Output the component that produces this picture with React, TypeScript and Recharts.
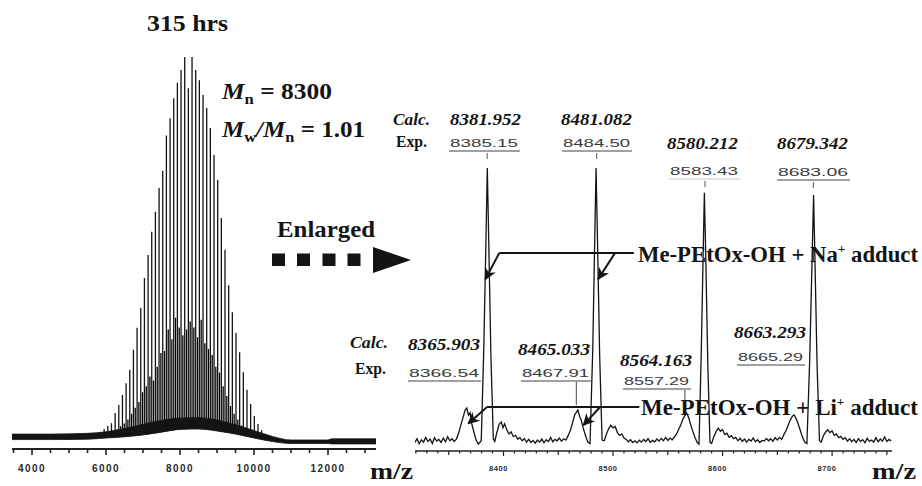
import React from 'react';
import { ComposedChart, Line, Area, XAxis, YAxis, ReferenceLine } from 'recharts';

const SERIF = "'Liberation Serif', 'Times New Roman', serif";
const SANS = "'Liberation Sans', Arial, sans-serif";
const INK = '#141414';

// ---- full spectrum, 315 hrs (relative intensity, 100 = tallest) ----
const fullPeakMz = [
  5850, 5949, 6048, 6147, 6246, 6345, 6444, 6543, 6642, 6741, 6840, 6939, 7038, 7137, 7236, 7335,
  7434, 7533, 7632, 7731, 7830, 7929, 8028, 8127, 8226, 8325, 8424, 8523, 8622, 8721, 8820, 8919,
  9018, 9117, 9216, 9315, 9414, 9513, 9612, 9711, 9810, 9909, 10008, 10107, 10206, 10305,
];
const fullPeakInt = [
  4.3, 5.1, 5.9, 6.6, 9.2, 11.2, 13.8, 16.8, 20.2, 25.3, 30.9, 36.0, 43.6, 49.5, 55.4, 60.5,
  66.6, 71.0, 80.0, 84.4, 89.5, 93.4, 96.7, 100, 92.0, 100, 96.7, 94.1, 90.3, 87.0, 81.9, 75.0,
  68.6, 58.9, 50.8, 41.8, 34.9, 29.6, 24.7, 19.6, 15.1, 11.5, 8.4, 6.4, 4.8, 3.8,
];
// weaker series sitting between the main peaks (dark core of the envelope)
const fullMinorMz = [
  6196, 6295, 6394, 6493, 6592, 6691, 6790, 6889, 6988, 7087, 7186, 7285, 7384, 7483, 7582, 7681,
  7780, 7879, 7978, 8077, 8176, 8275, 8374, 8473, 8572, 8671, 8770, 8869, 8968, 9067, 9166, 9265,
  9364, 9463, 9562, 9661, 9760, 9859,
];
const fullMinorInt = [
  4.5, 5.0, 5.8, 6.5, 7.5, 9.0, 10.5, 12.0, 14.5, 16.0, 18.5, 17.5, 21.0, 24.5, 25.0, 30.5,
  28.0, 33.5, 31.0, 29.0, 30.5, 32.5, 31.0, 28.5, 33.0, 27.0, 25.5, 24.0, 21.0, 19.5, 16.0, 13.5,
  11.0, 9.0, 7.5, 6.0, 5.0, 4.2,
];
// noisy baseline band (lower / upper edge)
const fullBaseMz = [3459, 4500, 5500, 6000, 6500, 7000, 7500, 8000, 8500, 9000, 9500, 10000, 10500, 11000, 12000, 12100, 13297];
const fullBaseLow = [2.4, 2.4, 2.5, 2.8, 3.1, 3.6, 4.3, 5.0, 5.1, 4.6, 3.8, 2.8, 1.9, 1.4, 1.4, 1.3, 1.3];
const fullBaseHigh = [3.8, 3.8, 4.0, 4.4, 5.2, 6.3, 7.3, 7.9, 8.0, 7.4, 6.2, 4.7, 3.2, 2.3, 2.3, 2.6, 2.6];
const fullTickLabels = [4000, 6000, 8000, 10000, 12000];

// ---- enlarged region, m/z 8320-8750: [m/z, intensity] ----
const zoomTrace: [number, number][] = [
  [8319, 2.4], [8321, 3.6], [8323, 2.1], [8325, 3.3], [8327, 2.6], [8329, 4.0], [8331, 2.8], [8333, 3.5],
  [8335, 2.2], [8337, 3.9], [8339, 2.9], [8341, 3.4], [8343, 2.5], [8345, 3.8], [8347, 2.7], [8349, 4.2],
  [8351, 3.0], [8353, 3.6], [8355, 2.8], [8357, 3.5],
  [8359, 5.2], [8361, 7.5], [8363, 9.8], [8365, 12.0], [8366.5, 12.6], [8368, 10.5], [8369.5, 11.2],
  [8371, 8.0], [8373, 5.5], [8375, 3.2], [8377, 2.0],
  [8379.7, 3.0], [8382, 30], [8384, 62], [8385.2, 83], [8386.5, 62], [8388.5, 28], [8390.7, 3.5],
  [8392, 2.8], [8394, 5.5], [8396, 7.8], [8398, 8.5], [8399.5, 6.8], [8401, 8.0], [8403, 6.2], [8405, 5.0],
  [8407, 5.6], [8409, 4.2], [8411, 4.6], [8413, 3.5],
  [8415, 3.9], [8417, 3.0], [8419, 3.6], [8421, 2.6], [8423, 3.4], [8425, 2.5], [8427, 3.1], [8429, 2.3],
  [8431, 3.2], [8433, 2.6], [8435, 3.5], [8437, 2.4], [8439, 3.3], [8441, 2.8], [8443, 4.0], [8445, 2.7],
  [8447, 3.4], [8449, 3.0], [8451, 3.8], [8453, 2.9], [8455, 3.6], [8457, 3.2],
  [8459, 4.5], [8461, 6.0], [8463, 8.2], [8465, 10.6], [8467.9, 12.0], [8469.5, 10.2], [8471, 9.0],
  [8473, 6.5], [8475, 4.4], [8477, 2.6],
  [8479, 2.2], [8481.5, 30], [8483.3, 62], [8484.5, 83], [8485.8, 62], [8487.8, 28], [8490, 3.2],
  [8492, 3.0], [8494, 5.0], [8496, 6.5], [8498, 7.6], [8500, 6.8], [8502, 7.2], [8504, 5.4], [8506, 4.6],
  [8508, 5.0], [8510, 3.8],
  [8512, 3.4], [8514, 2.7], [8516, 3.3], [8518, 2.5], [8520, 3.0], [8522, 2.4], [8524, 3.2], [8526, 2.6],
  [8528, 3.4], [8530, 2.8], [8532, 3.6], [8534, 2.5], [8536, 3.1], [8538, 2.7], [8540, 3.5], [8542, 2.9],
  [8544, 3.7], [8546, 3.0], [8548, 4.0], [8550, 3.1], [8552, 3.8], [8554, 3.3], [8556, 4.1],
  [8558, 5.0], [8560, 6.4], [8562, 7.8], [8564, 9.5], [8566, 10.6], [8567.3, 11.1], [8569, 9.8],
  [8571, 7.6], [8573, 5.6], [8575, 3.8], [8577, 2.4],
  [8578.5, 2.0], [8580.5, 28], [8582.3, 58], [8583.4, 75.7], [8584.6, 58], [8586.5, 26], [8588.5, 2.6],
  [8590, 2.2], [8592, 4.2], [8594, 5.6], [8596, 6.7], [8598, 5.8], [8600, 6.3], [8602, 4.8], [8604, 5.2],
  [8606, 4.0], [8608, 4.5], [8610, 3.6],
  [8612, 4.0], [8614, 3.0], [8616, 3.7], [8618, 2.8], [8620, 3.5], [8622, 2.6], [8624, 3.4], [8626, 2.9],
  [8628, 3.8], [8630, 2.7], [8632, 3.3], [8634, 2.5], [8636, 3.1], [8638, 2.9], [8640, 3.7], [8642, 3.0],
  [8644, 3.6], [8646, 2.8], [8648, 3.9], [8650, 3.2], [8652, 4.0], [8654, 3.4],
  [8656, 4.8], [8658, 6.0], [8660, 7.6], [8662, 9.2], [8664, 10.3], [8665.3, 10.6], [8667, 9.6],
  [8669, 8.0], [8671, 6.0], [8673, 4.0], [8675, 2.6],
  [8677, 2.2], [8679.5, 26], [8681.8, 57], [8683.1, 75.1], [8684.3, 57], [8686.3, 25], [8688.5, 3.0],
  [8690, 2.6], [8692, 4.4], [8694, 5.5], [8696, 6.2], [8698, 5.4], [8700, 5.9], [8702, 4.6], [8704, 5.0],
  [8706, 3.9], [8708, 4.3], [8710, 3.4],
  [8712, 3.9], [8714, 2.9], [8716, 3.6], [8718, 2.7], [8720, 3.4], [8722, 2.5], [8724, 3.6], [8726, 2.8],
  [8728, 3.3], [8730, 2.4], [8732, 3.7], [8734, 2.8], [8736, 3.2], [8738, 2.6], [8740, 3.9], [8742, 2.7],
  [8744, 3.5], [8746, 2.9], [8748, 4.1], [8750, 2.8], [8752, 3.4], [8754, 2.9],
];
const zoomTickLabels = [8400, 8500, 8600, 8700];

// peak annotations
const naCalc = ['8381.952', '8481.082', '8580.212', '8679.342'];
const naExp = ['8385.15', '8484.50', '8583.43', '8683.06'];
const liCalc = ['8365.903', '8465.033', '8564.163', '8663.293'];
const liExp = ['8366.54', '8467.91', '8557.29', '8665.29'];

// adduct arrows in data units: [fromMz, fromInt, toMz, toInt]
const naLine = [8519, 58.1, 8396.2, 58.1];
const naArrows = [[8396.2, 58.1, 8383.5, 50.4], [8501.9, 58.1, 8486.4, 50.4]];
const liLine = [8524, 12.9, 8385.0, 12.9];
const liArrows = [[8385.0, 12.9, 8367.9, 8.1], [8488.2, 12.9, 8473.0, 7.6]];

// label layout (px)
const naCalcPos = [[450, 125], [561, 125], [667, 149], [777, 149]];
const naExpPos = [[450, 147, 68], [563, 147, 67], [670, 175, 68], [778, 176, 70]];
const naLeaderX = [487.2, 596.7, 705, 813.3];
const liCalcPos = [[408, 350], [518, 355], [620, 366], [734, 338]];
const liExpPos = [[409, 377, 70], [522, 377, 67], [624, 385, 65], [738, 361, 65]];

const stick = (mz: number[], h: number[]) =>
  mz.flatMap((m, k) => [{ mz: m, v: 1 }, { mz: m, v: h[k] }, { mz: m, v: 1 }]);
const fullMain = stick(fullPeakMz, fullPeakInt);
const fullMinor = stick(fullMinorMz, fullMinorInt);
const fullBase = fullBaseMz.map((m, k) => ({ mz: m, low: fullBaseLow[k], band: [fullBaseLow[k], fullBaseHigh[k]] }));
const zoomData = zoomTrace.map(([mz, v]) => ({ mz, v }));

const fullTicks = Array.from({ length: 20 }, (_, k) => 3500 + k * 500);
const zoomTicks = Array.from({ length: 44 }, (_, k) => 8320 + k * 10);

const FULL_DOMAIN: [number, number] = [3459, 13297];
const FULL_MARGIN = { top: 57, right: 546, bottom: 7, left: 12 };

function FullTick(props: any) {
  const { x, y, payload } = props;
  const major = fullTickLabels.includes(payload.value);
  return (
    <g>
      <line x1={x} x2={x} y1={y} y2={y + (major ? 6 : 4)} stroke="#222" strokeWidth={1.6} />
      {major && (
        <text x={x} y={y + 23} textAnchor="middle" fontFamily={SANS} fontSize={10} fontWeight={700}
          letterSpacing={1.4} fill="#2a2a2a">{payload.value}</text>
      )}
    </g>
  );
}

function ZoomTick(props: any) {
  const { x, y, payload } = props;
  const v = payload.value;
  const len = v % 100 === 0 ? 5 : v % 50 === 0 ? 4 : 2.5;
  return (
    <g>
      <line x1={x} x2={x} y1={y} y2={y + len} stroke="#222" strokeWidth={1.2} />
      {v % 100 === 0 && (
        <text x={x - 5} y={y + 20} textAnchor="middle" fontFamily={SANS} fontSize={7.5} fontWeight={700}
          letterSpacing={0.6} fill="#2a2a2a">{v}</text>
      )}
    </g>
  );
}

const Arrow = (p: any) => (
  <line x1={p.x1} y1={p.y1} x2={p.x2} y2={p.y2} stroke={INK} strokeWidth={2} markerEnd="url(#adductHead)" />
);
const Plain = (p: any) => <line x1={p.x1} y1={p.y1} x2={p.x2} y2={p.y2} stroke={INK} strokeWidth={2} />;

function Txt({ x, y, w, size, italic, bold = true, family = SERIF, fill = INK, children }: any) {
  return (
    <text x={x} y={y} fontSize={size} fontFamily={family} fontWeight={bold ? 700 : 400}
      fontStyle={italic ? 'italic' : 'normal'} fill={fill} textLength={w} lengthAdjust="spacingAndGlyphs">
      {children}
    </text>
  );
}

const layer = { position: 'absolute' as const, left: 0, top: 0 };

export default function App() {
  return (
    <div style={{ position: 'absolute', left: 0, top: 0, width: 922, height: 486, background: '#fff', overflow: 'hidden' }}>
      {/* full spectrum: peak sticks */}
      <div style={layer}>
        <ComposedChart width={922} height={486} margin={FULL_MARGIN}>
          <XAxis type="number" dataKey="mz" domain={FULL_DOMAIN} ticks={fullTicks} interval={0}
            tickSize={0} tickMargin={0} tickLine={false} tick={(p: any) => <FullTick {...p} />}
            axisLine={{ stroke: '#222', strokeWidth: 2 }} height={30} allowDataOverflow />
          <YAxis hide type="number" domain={[0, 100]} allowDataOverflow />
          <Line data={fullMinor} dataKey="v" type="linear" stroke="#000" strokeWidth={1.3}
            dot={false} activeDot={false} isAnimationActive={false} />
          <Line data={fullMain} dataKey="v" type="linear" stroke={INK} strokeWidth={1.3}
            dot={false} activeDot={false} isAnimationActive={false} />
        </ComposedChart>
      </div>

      {/* full spectrum: baseline hump and noise band, laid over the sticks */}
      <div style={layer}>
        <ComposedChart width={922} height={486} margin={{ ...FULL_MARGIN, bottom: 37 }}>
          <XAxis hide type="number" dataKey="mz" domain={FULL_DOMAIN} allowDataOverflow />
          <YAxis hide type="number" domain={[0, 100]} allowDataOverflow />
          <Area data={fullBase} dataKey="low" type="monotone" baseValue={0.4} fill="#fff" fillOpacity={1}
            stroke="none" isAnimationActive={false} />
          <Area data={fullBase} dataKey="band" type="monotone" fill={INK} fillOpacity={1}
            stroke={INK} strokeWidth={0.8} isAnimationActive={false} />
        </ComposedChart>
      </div>

      {/* enlarged spectrum */}
      <div style={layer}>
        <ComposedChart width={922} height={486} margin={{ top: 110, right: 30, bottom: 5, left: 415 }}>
          <defs>
            <marker id="adductHead" viewBox="0 0 10 10" refX="9" refY="5" markerWidth="15" markerHeight="12"
              markerUnits="userSpaceOnUse" orient="auto">
              <path d="M0,0 L10,5 L0,10 L3,5 z" fill={INK} />
            </marker>
          </defs>
          <XAxis type="number" dataKey="mz" domain={[8319.2, 8754.7]} ticks={zoomTicks} interval={0}
            tickSize={0} tickMargin={0} tickLine={false} tick={(p: any) => <ZoomTick {...p} />}
            axisLine={{ stroke: '#222', strokeWidth: 1.5 }} height={30} allowDataOverflow />
          <YAxis hide type="number" domain={[0, 100]} allowDataOverflow />
          <Line data={zoomData} dataKey="v" type="linear" stroke={INK} strokeWidth={1.3}
            dot={false} activeDot={false} isAnimationActive={false} />
          <ReferenceLine segment={[{ x: naLine[0], y: naLine[1] }, { x: naLine[2], y: naLine[3] }]}
            ifOverflow="visible" shape={Plain} />
          {naArrows.map((a, k) => (
            <ReferenceLine key={`na${k}`} segment={[{ x: a[0], y: a[1] }, { x: a[2], y: a[3] }]}
              ifOverflow="visible" shape={Arrow} />
          ))}
          <ReferenceLine segment={[{ x: liLine[0], y: liLine[1] }, { x: liLine[2], y: liLine[3] }]}
            ifOverflow="visible" shape={Plain} />
          {liArrows.map((a, k) => (
            <ReferenceLine key={`li${k}`} segment={[{ x: a[0], y: a[1] }, { x: a[2], y: a[3] }]}
              ifOverflow="visible" shape={Arrow} />
          ))}
        </ComposedChart>
      </div>

      <svg width={922} height={486} style={{ ...layer, pointerEvents: 'none' }}>
        {/* left panel titles */}
        <Txt x={147} y={31} w={81} size={23}>315 hrs</Txt>
        <text x={222} y={99} fontSize={23} fontWeight={700} fontFamily={SERIF} fill={INK}
          textLength={110} lengthAdjust="spacingAndGlyphs">
          <tspan fontStyle="italic">M</tspan>
          <tspan fontSize={15} dy={5}>n</tspan>
          <tspan dy={-5}> = 8300</tspan>
        </text>
        <text x={222} y={137} fontSize={23} fontWeight={700} fontFamily={SERIF} fill={INK}
          textLength={143} lengthAdjust="spacingAndGlyphs">
          <tspan fontStyle="italic">M</tspan>
          <tspan fontSize={15} dy={5}>w</tspan>
          <tspan dy={-5} fontStyle="italic">/M</tspan>
          <tspan fontSize={15} dy={5}>n</tspan>
          <tspan dy={-5}> = 1.01</tspan>
        </text>
        <Txt x={277} y={237} w={98} size={24}>Enlarged</Txt>
        {[272, 297, 322.5, 347.5].map((x) => (
          <rect key={x} x={x} y={253.5} width={13} height={12.5} fill={INK} />
        ))}
        <polygon points="373,247 411,260 373,273" fill={INK} />
        <Txt x={370} y={479} w={43} size={24}>m/z</Txt>
        <Txt x={872} y={479} w={44} size={24}>m/z</Txt>

        {/* Na+ series labels */}
        <Txt x={393} y={125} w={37} size={17} italic>Calc.</Txt>
        <Txt x={396} y={147} w={31} size={16}>Exp.</Txt>
        {naCalc.map((s, k) => (
          <Txt key={s} x={naCalcPos[k][0]} y={naCalcPos[k][1]} w={71} size={17} italic>{s}</Txt>
        ))}
        {naExp.map((s, k) => {
          const [x, y, w] = naExpPos[k];
          return (
            <g key={s}>
              <Txt x={x} y={y} w={w} size={11} bold={false} family={SANS} fill="#3a3a3a">{s}</Txt>
              <line x1={x - 1} x2={x + w + 2} y1={y + 4} y2={y + 4} stroke={k === 2 ? '#c8c8c8' : '#444'} strokeWidth={1.2} />
              <line x1={naLeaderX[k]} x2={naLeaderX[k]} y1={y + 6} y2={y + 12} stroke="#555" strokeWidth={1} />
            </g>
          );
        })}
        <Txt x={638} y={262} w={280} size={22.5}>
          Me-PEtOx-OH + Na<tspan fontSize={13} dy={-9}>+</tspan><tspan dy={9}> adduct</tspan>
        </Txt>

        {/* Li+ series labels */}
        <Txt x={350} y={348} w={38} size={17} italic>Calc.</Txt>
        <Txt x={355} y={374} w={31} size={16}>Exp.</Txt>
        {liCalc.map((s, k) => (
          <Txt key={s} x={liCalcPos[k][0]} y={liCalcPos[k][1]} w={72} size={17} italic>{s}</Txt>
        ))}
        {liExp.map((s, k) => {
          const [x, y, w] = liExpPos[k];
          return (
            <g key={s}>
              <Txt x={x} y={y} w={w} size={11} bold={false} family={SANS} fill="#3a3a3a">{s}</Txt>
              <line x1={x - 1} x2={x + w + 2} y1={y + 4} y2={y + 4} stroke="#444" strokeWidth={1.2} />
            </g>
          );
        })}
        <line x1={576.3} x2={576.3} y1={382} y2={405} stroke="#444" strokeWidth={1} />
        <line x1={684.9} x2={684.9} y1={390} y2={404} stroke="#444" strokeWidth={1} />
        <Txt x={641} y={415} w={277} size={22.5}>
          Me-PEtOx-OH + Li<tspan fontSize={13} dy={-9}>+</tspan><tspan dy={9}> adduct</tspan>
        </Txt>
      </svg>
    </div>
  );
}
